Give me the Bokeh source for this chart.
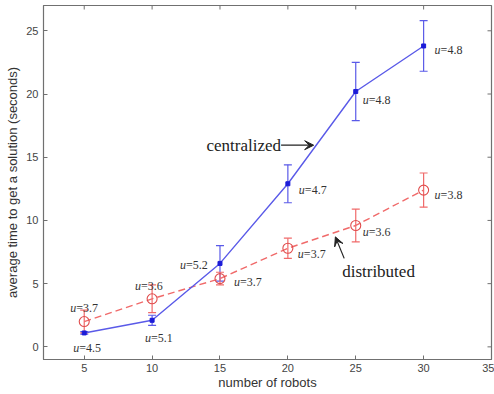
from bokeh.plotting import figure
from bokeh.models import (ColumnDataSource, Range1d, Whisker, TeeHead,
                          Arrow, VeeHead, FixedTicker)
from bokeh.core.properties import value
from bokeh.embed import file_html
from bokeh.resources import INLINE

# ---- data ----
robots = [5, 10, 15, 20, 25, 30]
cent_mean = [1.1, 2.1, 6.6, 12.9, 20.2, 23.8]
cent_err = [0.1, 0.4, 1.4, 1.5, 2.3, 2.0]
dist_mean = [2.0, 3.8, 5.4, 7.8, 9.6, 12.4]
dist_err = [0.9, 1.1, 0.5, 0.8, 1.3, 1.35]
cent_u = ["=4.5", "=5.1", "=5.2", "=4.7", "=4.8", "=4.8"]
dist_u = ["=3.7", "=3.6", "=3.7", "=3.7", "=3.6", "=3.8"]
x_ticks = [5, 10, 15, 20, 25, 30, 35]
y_ticks = [0, 5, 10, 15, 20, 25]

# label pixel offsets (style; screen pixels, +y is down)
cent_dx = [-11, -7, -40, 11, 7, 11]
cent_dy = [15, 18, 2, 6, 9, 4]
dist_dx = [-14, -17, 14, 10, 7, 11]
dist_dy = [-14, -13, 3, 6, 7, 5]

BLUE_L = "#5a5ae8"
BLUE_M = "#1c1cd8"
RED_L = "#f06a6a"
RED_M = "#e04c4c"
AX = "#707070"
TXT = "#444444"

X0, X1, Y0, Y1 = 2, 35, -1, 27

p = figure(width=494, height=394, x_range=Range1d(X0, X1), y_range=Range1d(Y0, Y1),
           output_backend="svg", toolbar_location=None,
           min_border_left=43, min_border_right=3, min_border_top=5, min_border_bottom=35)
p.grid.visible = False
p.outline_line_color = AX
p.outline_line_width = 1.2

for ax in (p.xaxis[0], p.yaxis[0]):
    ax.axis_line_color = AX
    ax.major_tick_line_color = AX
    ax.major_tick_in = 4
    ax.major_tick_out = 0
    ax.minor_tick_line_color = None
    ax.major_label_text_font = "Liberation Sans"
    ax.major_label_text_font_size = "11px"
    ax.major_label_text_color = TXT
    ax.axis_label_text_font = "Liberation Sans"
    ax.axis_label_text_font_size = "13px"
    ax.axis_label_text_font_style = "normal"
    ax.axis_label_text_color = "#333333"

p.xaxis.ticker = FixedTicker(ticks=x_ticks)
p.yaxis.ticker = FixedTicker(ticks=y_ticks)
p.xaxis.axis_label = "number of robots"
p.yaxis.axis_label = "average time to get a solution (seconds)"
p.xaxis.major_label_standoff = 4
p.xaxis.axis_label_standoff = 0
p.yaxis.major_label_standoff = 5
p.yaxis.axis_label_standoff = 3

# top/right inward ticks (MATLAB box), derived from the tick lists and ranges
tx = (X1 - X0) * 4 / 448.0
ty = (Y1 - Y0) * 4 / 354.0
p.segment(x0=x_ticks, x1=x_ticks, y0=[Y1] * len(x_ticks), y1=[Y1 - ty] * len(x_ticks),
          line_color=AX, line_width=1)
p.segment(x0=[X1] * len(y_ticks), x1=[X1 - tx] * len(y_ticks), y0=y_ticks, y1=y_ticks,
          line_color=AX, line_width=1)

cs = ColumnDataSource(dict(x=robots, y=cent_mean,
                           up=[m + e for m, e in zip(cent_mean, cent_err)],
                           lo=[m - e for m, e in zip(cent_mean, cent_err)],
                           u=cent_u, dx=cent_dx, dy=cent_dy,
                           dx2=[d + 6 for d in cent_dx]))
ds = ColumnDataSource(dict(x=robots, y=dist_mean,
                           up=[m + e for m, e in zip(dist_mean, dist_err)],
                           lo=[m - e for m, e in zip(dist_mean, dist_err)],
                           u=dist_u, dx=dist_dx, dy=dist_dy,
                           dx2=[d + 6 for d in dist_dx]))

# error bars
for src, col in ((cs, BLUE_L), (ds, RED_L)):
    w = Whisker(base="x", upper="up", lower="lo", source=src, line_color=col, line_width=1.2,
                upper_head=TeeHead(size=8, line_color=col, line_width=1.2),
                lower_head=TeeHead(size=8, line_color=col, line_width=1.2))
    p.add_layout(w)

p.line("x", "y", source=ds, line_color=RED_L, line_width=1.4, line_dash="7 4")
p.scatter("x", "y", source=ds, marker="circle", size=10, fill_color=None,
          line_color=RED_M, line_width=1.1)
p.line("x", "y", source=cs, line_color=BLUE_L, line_width=1.4)
p.scatter("x", "y", source=cs, marker="square", size=4, fill_color=BLUE_M,
          line_color=BLUE_M)

# u labels
for src in (cs, ds):
    p.text("x", "y", text=value("u"), source=src, x_offset="dx", y_offset="dy",
           text_font=value("Liberation Serif"), text_font_style="italic",
           text_font_size="12px", text_color="#333333",
           text_align="left", text_baseline="middle")
    p.text("x", "y", text="u", source=src, x_offset="dx2", y_offset="dy",
           text_font=value("Liberation Serif"), text_font_size="12px",
           text_color="#333333", text_align="left", text_baseline="middle")

# annotations
p.text(x=[14.0], y=[15.95], text=["centralized"], text_font=value("Liberation Serif"),
       text_font_size="17px", text_color="#222222", text_align="left", text_baseline="middle")
p.add_layout(Arrow(x_start=19.5, y_start=15.95, x_end=21.9, y_end=15.95,
                   line_color="#222222", line_width=1.2,
                   end=VeeHead(size=9, fill_color="#222222", line_color="#222222")))
p.text(x=[24.0], y=[5.95], text=["distributed"], text_font=value("Liberation Serif"),
       text_font_size="17px", text_color="#222222", text_align="left", text_baseline="middle")
p.add_layout(Arrow(x_start=24.15, y_start=7.0, x_end=23.5, y_end=8.7,
                   line_color="#222222", line_width=1.2,
                   end=VeeHead(size=9, fill_color="#222222", line_color="#222222")))

open("out.html", "w").write(file_html(p, INLINE))
